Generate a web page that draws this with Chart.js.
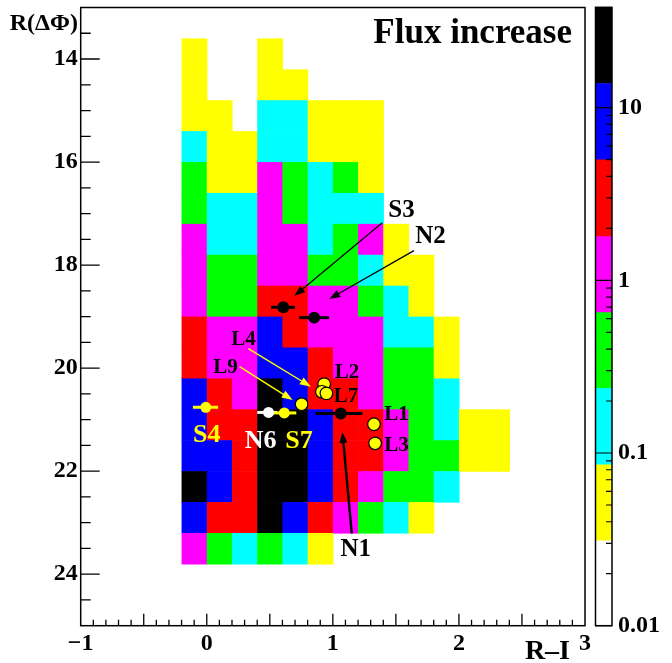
<!DOCTYPE html>
<html>
<head>
<meta charset="utf-8">
<script src="https://cdn.jsdelivr.net/npm/chart.js@4.4.1/dist/chart.umd.min.js"></script>
<style>
  html,body{margin:0;padding:0;background:#fff;}
  #wrap{position:relative;width:672px;height:663px;}
  #main{position:absolute;left:0;top:0;}
  #cbar{position:absolute;left:590px;top:0;}
</style>
</head>
<body>
<div id="wrap">
  <canvas id="main" width="672" height="663"></canvas>
  <canvas id="cbar" width="82" height="663"></canvas>
</div>
<script>
// ---------- data ----------
const xEdges = [-0.2, 0.0, 0.2, 0.4, 0.6, 0.8, 1.0, 1.2, 1.4, 1.6, 1.8, 2.0, 2.2, 2.4];
const yEdges = [13.6, 14.2, 14.8, 15.4, 16.0, 16.6, 17.2, 17.8, 18.4, 19.0, 19.6, 20.2, 20.8, 21.4, 22.0, 22.6, 23.2, 23.8];
// flux increase per cell (rows = R(ΔΦ) bins, columns = R−I bins), 0 = empty
const cellValues = [
  [0.05, 0,    0,    0.05, 0,    0,    0,    0,    0,    0,    0,    0,    0   ],
  [0.05, 0,    0,    0.05, 0.05, 0,    0,    0,    0,    0,    0,    0,    0   ],
  [0.05, 0.05, 0,    0.13, 0.13, 0.05, 0.05, 0.05, 0,    0,    0,    0,    0   ],
  [0.13, 0.05, 0.05, 0.13, 0.13, 0.05, 0.05, 0.05, 0,    0,    0,    0,    0   ],
  [0.37, 0.05, 0.05, 1.0,  0.37, 0.13, 0.37, 0.05, 0,    0,    0,    0,    0   ],
  [0.37, 0.13, 0.13, 1.0,  0.37, 0.13, 0.13, 0.13, 0,    0,    0,    0,    0   ],
  [1.0,  0.13, 0.13, 1.0,  1.0,  0.13, 0.37, 1.0,  0.05, 0,    0,    0,    0   ],
  [1.0,  0.37, 0.37, 1.0,  1.0,  0.37, 0.37, 0.13, 0.05, 0.05, 0,    0,    0   ],
  [1.0,  0.37, 0.37, 2.9,  2.9,  1.0,  1.0,  0.37, 0.13, 0.05, 0,    0,    0   ],
  [2.9,  1.0,  1.0,  8.2,  2.9,  1.0,  1.0,  1.0,  0.13, 0.13, 0.05, 0,    0   ],
  [2.9,  1.0,  1.0,  8.2,  8.2,  2.9,  1.0,  1.0,  0.37, 0.37, 0.05, 0,    0   ],
  [8.2,  2.9,  1.0,  23,   8.2,  2.9,  2.9,  1.0,  0.37, 0.37, 0.13, 0,    0   ],
  [8.2,  2.9,  2.9,  23,   23,   8.2,  2.9,  2.9,  1.0,  0.37, 0.13, 0.05, 0.05],
  [8.2,  8.2,  2.9,  23,   23,   8.2,  2.9,  2.9,  1.0,  0.37, 0.37, 0.05, 0.05],
  [23,   8.2,  2.9,  23,   23,   8.2,  2.9,  1.0,  0.37, 0.37, 0.13, 0,    0   ],
  [8.2,  2.9,  2.9,  23,   8.2,  2.9,  1.0,  0.37, 0.13, 0.05, 0,    0,    0   ],
  [1.0,  0.37, 0.13, 0.37, 0.13, 0.05, 0,    0,    0,    0,    0,    0,    0   ]
];
// colour levels of the z scale
const zLevels = [0.01, 0.031, 0.0855, 0.237, 0.65, 1.79, 4.99, 13.8, 38.1];
const zColors = ['#ffffff', '#ffff00', '#00ffff', '#00ff00', '#ff00ff', '#ff0000', '#0000ff', '#000000'];
const zMajorTicks = [0.01, 0.1, 1, 10];
const zMinorTicks = [0.02,0.03,0.04,0.05,0.06,0.07,0.08,0.09,0.2,0.3,0.4,0.5,0.6,0.7,0.8,0.9,2,3,4,5,6,7,8,9,20,30];

// tick labels
const xTickValues = [-1, 0, 1, 2, 3];
const yTickValues = [14, 16, 18, 20, 22, 24];

// black sources with horizontal error bars
const srcNames = ['S3', 'N2', 'N1'];
const srcX   = [0.607, 0.852, 1.063];
const srcY   = [18.82, 19.02, 20.88];
const srcXLo = [0.51, 0.733, 0.86];
const srcXHi = [0.70, 0.97, 1.234];
// yellow sources with error bars
const yelNames = ['S4', 'S7'];
const yelX   = [-0.008, 0.615];
const yelY   = [20.76, 20.87];
const yelXLo = [-0.11, 0.51];
const yelXHi = [0.09, 0.71];
// white source
const whiNames = ['N6'];
const whiX   = [0.49];
const whiY   = [20.86];
const whiXLo = [0.40];
const whiXHi = [0.56];
// L points (yellow circles)
const lNames = ['L2', 'L4', 'L7', 'L9', 'L1', 'L3'];
const lX = [0.931, 0.913, 0.949, 0.752, 1.326, 1.335];
const lY = [20.31, 20.46, 20.49, 20.70, 21.09, 21.46];

// text labels (data coordinates)
const labelText  = ['S3', 'N2', 'N1', 'L4', 'L9', 'L2', 'L7', 'L1', 'L3', 'S4', 'N6', 'S7'];
const labelX     = [1.544, 1.775, 1.182, 0.291, 0.149, 1.113, 1.105, 1.504, 1.504, 0.0, 0.428, 0.731];
const labelY     = [16.94, 17.45, 23.53, 19.44, 19.98, 20.09, 20.56, 20.91, 21.51, 21.30, 21.42, 21.42];
const labelColor = ['#000','#000','#000','#000','#000','#000','#000','#000','#000','#ffff00','#ffffff','#ffff00'];
const labelSize  = [25, 25, 25, 21, 21, 21, 21, 21, 21, 26, 26, 26];

// arrows (data coordinates)
const arrowFromX = [1.392, 1.643, 1.15, 0.330, 0.26];
const arrowFromY = [17.18, 17.72, 23.21, 19.62, 19.97];
const arrowToX   = [0.694, 0.971, 1.076, 0.826, 0.681];
const arrowToY   = [18.60, 18.66, 21.24, 20.36, 20.62];
const arrowColor = ['#000', '#000', '#000', '#ffff00', '#ffff00'];
const arrowWidth = [1.3, 1.3, 2.4, 1.4, 1.4];

const SERIF = '"Liberation Serif", "DejaVu Serif", serif';

function zColor(v){
  for (let i = 0; i < zColors.length; i++){
    if (v < zLevels[i+1]) return zColors[i];
  }
  return zColors[zColors.length-1];
}
function noPad(s){ s.paddingTop = 0; s.paddingBottom = 0; s.paddingLeft = 0; s.paddingRight = 0; }

// ---------- plugins ----------
const cellPlugin = {
  id: 'cells',
  beforeDatasetsDraw(chart){
    const {ctx, scales:{x, y}} = chart;
    ctx.save();
    for (let r = 0; r < cellValues.length; r++){
      for (let c = 0; c < cellValues[r].length; c++){
        const v = cellValues[r][c];
        if (!v) continue;
        const x0 = x.getPixelForValue(xEdges[c]), x1 = x.getPixelForValue(xEdges[c+1]);
        const y0 = y.getPixelForValue(yEdges[r]), y1 = y.getPixelForValue(yEdges[r+1]);
        ctx.fillStyle = zColor(v);
        ctx.fillRect(Math.min(x0,x1), Math.min(y0,y1), Math.abs(x1-x0)+0.6, Math.abs(y1-y0)+0.6);
      }
    }
    // horizontal error bars
    chart.data.datasets.forEach(ds => {
      if (!ds.errColor) return;
      ds.data.forEach(p => {
        const py = y.getPixelForValue(p.y);
        ctx.strokeStyle = ds.errColor;
        ctx.lineWidth = 3;
        ctx.beginPath();
        ctx.moveTo(x.getPixelForValue(p.xlo), py);
        ctx.lineTo(x.getPixelForValue(p.xhi), py);
        ctx.stroke();
      });
    });
    ctx.restore();
  }
};

const decoPlugin = {
  id: 'deco',
  afterDatasetsDraw(chart){
    const {ctx, chartArea:a, scales:{x, y}} = chart;
    ctx.save();
    // arrows
    for (let i = 0; i < arrowFromX.length; i++){
      const fx = x.getPixelForValue(arrowFromX[i]), fy = y.getPixelForValue(arrowFromY[i]);
      const tx = x.getPixelForValue(arrowToX[i]), ty = y.getPixelForValue(arrowToY[i]);
      const ang = Math.atan2(ty-fy, tx-fx);
      const hl = 11, hw = 4;
      ctx.strokeStyle = arrowColor[i];
      ctx.fillStyle = arrowColor[i];
      ctx.lineWidth = arrowWidth[i];
      ctx.beginPath();
      ctx.moveTo(fx, fy);
      ctx.lineTo(tx - Math.cos(ang)*hl*0.6, ty - Math.sin(ang)*hl*0.6);
      ctx.stroke();
      ctx.beginPath();
      ctx.moveTo(tx, ty);
      ctx.lineTo(tx - Math.cos(ang)*hl - Math.sin(ang)*hw, ty - Math.sin(ang)*hl + Math.cos(ang)*hw);
      ctx.lineTo(tx - Math.cos(ang)*hl + Math.sin(ang)*hw, ty - Math.sin(ang)*hl - Math.cos(ang)*hw);
      ctx.closePath();
      ctx.fill();
    }
    // labels
    ctx.textAlign = 'center';
    ctx.textBaseline = 'middle';
    for (let i = 0; i < labelText.length; i++){
      ctx.font = 'bold ' + labelSize[i] + 'px ' + SERIF;
      ctx.fillStyle = labelColor[i];
      ctx.fillText(labelText[i], x.getPixelForValue(labelX[i]), y.getPixelForValue(labelY[i]));
    }
    // title
    ctx.font = 'bold 35px ' + SERIF;
    ctx.fillStyle = '#000';
    ctx.textAlign = 'right';
    ctx.textBaseline = 'alphabetic';
    ctx.fillText('Flux increase', a.right - 13, 43);
    // frame
    ctx.strokeStyle = '#000';
    ctx.lineWidth = 1.5;
    ctx.strokeRect(a.left, a.top, a.right - a.left, a.bottom - a.top);
    // y ticks (left, inward)
    ctx.lineWidth = 1.3;
    ctx.beginPath();
    for (let v = 13.5; v < 25; v += 0.5){
      const py = y.getPixelForValue(v);
      const major = yTickValues.includes(v);
      ctx.moveTo(a.left, py);
      ctx.lineTo(a.left + (major ? 19 : 10), py);
    }
    // x ticks (bottom, inward)
    for (let k = -9; k < 30; k++){
      const v = k / 10;
      const px = x.getPixelForValue(v);
      const len = (k % 5 === 0) ? 12 : 6;
      ctx.moveTo(px, a.bottom);
      ctx.lineTo(px, a.bottom - len);
    }
    ctx.stroke();
    // axis titles
    ctx.font = 'bold 24px ' + SERIF;
    ctx.textAlign = 'right';
    ctx.textBaseline = 'alphabetic';
    ctx.fillText('R(\u0394\u03A6)', 78, 30);
    ctx.font = 'bold 28px ' + SERIF;
    ctx.fillText('R\u2013I', 570, 659);
    ctx.restore();
  }
};

// ---------- main chart ----------
const mk = (xs, ys, lo, hi) => xs.map((v, i) => ({x: v, y: ys[i], xlo: lo ? lo[i] : v, xhi: hi ? hi[i] : v}));
const tickFont = {family: SERIF, size: 24, weight: 'bold'};

new Chart(document.getElementById('main'), {
  type: 'scatter',
  data: {
    datasets: [
      {label: 'N6', data: mk(whiX, whiY, whiXLo, whiXHi), errColor: '#ffffff',
       pointRadius: 5.5, pointBackgroundColor: '#ffffff', pointBorderWidth: 0, pointStyle: 'circle'},
      {label: 'S4/S7', data: mk(yelX, yelY, yelXLo, yelXHi), errColor: '#ffff00',
       pointRadius: 5.5, pointBackgroundColor: '#ffff00', pointBorderWidth: 0, pointStyle: 'circle'},
      {label: 'S3/N2/N1', data: mk(srcX, srcY, srcXLo, srcXHi), errColor: '#000000',
       pointRadius: 6, pointBackgroundColor: '#000000', pointBorderWidth: 0, pointStyle: 'circle'},
      {label: 'L', data: mk(lX, lY), pointRadius: 6.3, pointBackgroundColor: '#ffff00',
       pointBorderColor: '#000000', pointBorderWidth: 1.2, pointStyle: 'circle'}
    ]
  },
  options: {
    responsive: false,
    animation: false,
    devicePixelRatio: 1,
    layout: {padding: {left: 0, right: 87, top: 7.3, bottom: 0}},
    plugins: {legend: {display: false}, tooltip: {enabled: false}},
    scales: {
      x: {
        type: 'linear', min: -1, max: 3,
        grid: {display: false, drawTicks: false},
        border: {display: false},
        afterFit(s){ s.height = 37.3; noPad(s); },
        afterBuildTicks(s){ s.ticks = xTickValues.map(v => ({value: v})); },
        ticks: {font: tickFont, color: '#000', padding: 4, maxRotation: 0, autoSkip: false,
                callback: v => (v < 0 ? '\u2212' + Math.abs(v) : String(v))}
      },
      y: {
        type: 'linear', min: 13, max: 25, reverse: true,
        grid: {display: false, drawTicks: false},
        border: {display: false},
        afterFit(s){ s.width = 80.7; noPad(s); },
        afterBuildTicks(s){ s.ticks = yTickValues.map(v => ({value: v})); },
        ticks: {font: tickFont, color: '#000', padding: 3, autoSkip: false}
      }
    }
  },
  plugins: [cellPlugin, decoPlugin]
});

// ---------- colour bar ----------
const cbTickPlugin = {
  id: 'cbticks',
  afterDatasetsDraw(chart){
    const {ctx, chartArea:a, scales:{y}} = chart;
    ctx.save();
    ctx.strokeStyle = '#000';
    ctx.lineWidth = 1.2;
    ctx.beginPath();
    zMajorTicks.forEach(v => { const py = y.getPixelForValue(v); ctx.moveTo(a.left, py); ctx.lineTo(a.right, py); });
    zMinorTicks.forEach(v => { const py = y.getPixelForValue(v); ctx.moveTo(a.right - 6, py); ctx.lineTo(a.right, py); });
    ctx.stroke();
    ctx.lineWidth = 1.5;
    ctx.strokeRect(a.left, a.top, a.right - a.left, a.bottom - a.top);
    ctx.restore();
  }
};

new Chart(document.getElementById('cbar'), {
  type: 'bar',
  data: {
    labels: ['z'],
    datasets: zColors.map((c, i) => ({
      data: [[zLevels[i], zLevels[i+1]]],
      backgroundColor: c, borderWidth: 0, grouped: false,
      barPercentage: 1, categoryPercentage: 1
    }))
  },
  options: {
    responsive: false,
    animation: false,
    devicePixelRatio: 1,
    layout: {padding: {left: 5.5, right: 0, top: 7.3, bottom: 37.3}},
    plugins: {legend: {display: false}, tooltip: {enabled: false}},
    scales: {
      x: {display: false, afterFit(s){ noPad(s); }},
      y: {
        type: 'logarithmic', position: 'right',
        min: zLevels[0], max: zLevels[zLevels.length-1],
        grid: {display: false, drawTicks: false},
        border: {display: false},
        afterFit(s){ s.width = 60; noPad(s); },
        afterBuildTicks(s){ s.ticks = zMajorTicks.map(v => ({value: v})); },
        ticks: {font: tickFont, color: '#000', padding: 6, autoSkip: false,
                callback: v => String(v)}
      }
    }
  },
  plugins: [cbTickPlugin]
});
</script>
</body>
</html>
